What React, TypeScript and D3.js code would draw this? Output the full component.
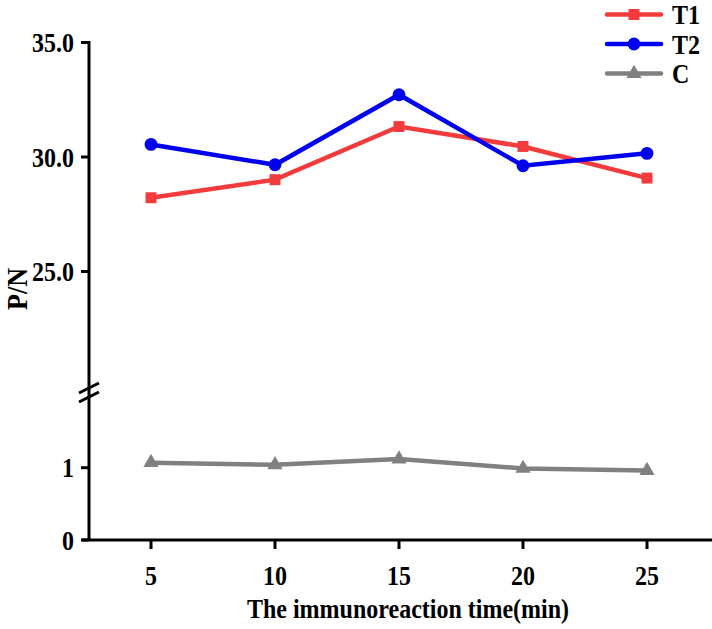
import React, { useEffect, useRef } from "react";
import * as d3 from "d3";

// sampling times (min)
const times = [5, 10, 15, 20, 25];
const xTicks = [5, 10, 15, 20, 25];

// P/N ratios per group
const t1Values = [28.22, 29.01, 31.33, 30.46, 29.08];
const t2Values = [30.55, 29.66, 32.72, 29.62, 30.16];
const cValues = [1.07, 1.04, 1.12, 0.99, 0.96];

const upperTicks = [25, 30, 35];
const lowerTicks = [0, 1];

const seriesNames = ["T1", "T2", "C"];
const seriesColors = ["#f43b3b", "#0000ee", "#808080"];

const FONT = "Liberation Serif, Times New Roman, serif";
// glyphs are drawn a little taller than wide
const STRETCH = 1.15;

const App = () => {
  const ref = useRef<SVGSVGElement>(null);

  useEffect(() => {
    const width = 712;
    const height = 629;
    const svg = d3.select(ref.current).attr("width", width).attr("height", height);
    svg.selectAll("*").remove();

    const axisX = 89;
    const baseY = 540;

    const x = d3.scaleLinear().domain([2.5, 27.5]).range([axisX, 709]);
    // broken y axis: upper part for T1/T2, lower part for the control
    const yUp = d3.scaleLinear().domain([20, 35]).range([386, 42.5]);
    const yLow = d3.scaleLinear().domain([0, 2]).range([baseY, 395.4]);

    const g = svg.append("g");

    const addText = (
      parent: d3.Selection<SVGGElement, unknown, null, undefined>,
      tx: number,
      ty: number,
      text: string,
      size: number,
      anchor: string,
      rotate = 0
    ) =>
      parent
        .append("text")
        .attr("transform", `translate(${tx},${ty}) rotate(${rotate}) scale(1,${STRETCH})`)
        .attr("dy", "0.35em")
        .attr("text-anchor", anchor)
        .attr("font-family", FONT)
        .attr("font-weight", "bold")
        .attr("font-size", size)
        .text(text);

    // y axis line (continuous, with break marks)
    g.append("line")
      .attr("x1", axisX).attr("x2", axisX)
      .attr("y1", yUp(35) - 1.5).attr("y2", baseY)
      .attr("stroke", "#000").attr("stroke-width", 3);

    [388, 397].forEach((cy) => {
      g.append("line")
        .attr("x1", axisX - 10).attr("y1", cy + 5)
        .attr("x2", axisX + 10).attr("y2", cy - 5)
        .attr("stroke", "#000").attr("stroke-width", 3);
    });

    // x axis line
    g.append("line")
      .attr("x1", axisX - 7).attr("x2", width)
      .attr("y1", baseY).attr("y2", baseY)
      .attr("stroke", "#000").attr("stroke-width", 3);

    // y ticks
    const yTick = (yy: number, text: string) => {
      g.append("line")
        .attr("x1", axisX - 8).attr("x2", axisX)
        .attr("y1", yy).attr("y2", yy)
        .attr("stroke", "#000").attr("stroke-width", 3);
      addText(g, axisX - 15, yy, text, 24, "end");
    };
    upperTicks.forEach((v) => yTick(yUp(v), d3.format(".1f")(v)));
    lowerTicks.forEach((v) => yTick(yLow(v), String(v)));

    // x ticks
    xTicks.forEach((v) => {
      g.append("line")
        .attr("x1", x(v)).attr("x2", x(v))
        .attr("y1", baseY).attr("y2", baseY + 9)
        .attr("stroke", "#000").attr("stroke-width", 3);
      addText(g, x(v), baseY + 35, String(v), 24, "middle");
    });

    // axis titles
    addText(g, 408, 608, "The immunoreaction time(min)", 24, "middle");
    addText(g, 17, 289, "P/N", 26, "middle", -90);

    const series = [
      { values: t1Values, y: yUp, shape: d3.symbolSquare, size: 120 },
      { values: t2Values, y: yUp, shape: d3.symbolCircle, size: 130 },
      { values: cValues, y: yLow, shape: d3.symbolTriangle, size: 100 },
    ];

    series.forEach((s, i) => {
      const color = seriesColors[i];
      const line = d3.line<number>()
        .x((_, j) => x(times[j]))
        .y((d) => s.y(d));
      g.append("path")
        .datum(s.values)
        .attr("d", line)
        .attr("fill", "none")
        .attr("stroke", color)
        .attr("stroke-width", 4.5);
      g.selectAll(null)
        .data(s.values)
        .join("path")
        .attr("transform", (d, j) => `translate(${x(times[j])},${s.y(d)})`)
        .attr("d", d3.symbol(s.shape, s.size)())
        .attr("fill", color);
    });

    // legend
    const legend = svg.append("g");
    series.forEach((s, i) => {
      const ly = 14.5 + i * 29.5;
      legend.append("line")
        .attr("x1", 607).attr("x2", 661)
        .attr("y1", ly).attr("y2", ly)
        .attr("stroke", seriesColors[i]).attr("stroke-width", 4.5)
        .attr("stroke-linecap", "round");
      legend.append("path")
        .attr("transform", `translate(634,${ly})`)
        .attr("d", d3.symbol(s.shape, s.size)())
        .attr("fill", seriesColors[i]);
      addText(legend, 672, ly, seriesNames[i], 24, "start");
    });
  }, []);

  return (
    <div style={{ position: "absolute", left: 0, top: 0 }}>
      <svg ref={ref}></svg>
    </div>
  );
};

export default App;
